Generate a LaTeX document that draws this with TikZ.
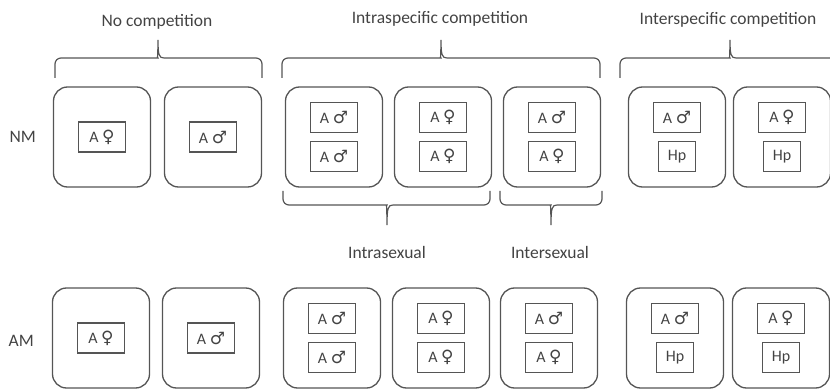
\documentclass[tikz,border=0pt]{standalone}
\usepackage{fontspec}
\setmainfont{Carlito}
\newfontfamily\symf{DejaVu Sans}
\definecolor{ln}{HTML}{555555}
\definecolor{tx}{HTML}{434343}
\newcommand{\ma}{{\symf\fontsize{17}{17}\selectfont\char"2642}}
\newcommand{\fe}{{\symf\fontsize{17}{17}\selectfont\char"2640}}
\begin{document}
\begin{tikzpicture}[x=1pt,y=-1pt,
  cell/.style={draw=ln,line width=1.3pt,rounded corners=14pt,minimum width=97pt,minimum height=100pt,inner sep=0pt},
  ind/.style={draw=ln,line width=1.4pt,minimum width=47pt,minimum height=30pt,inner sep=0pt,text=tx,font=\fontsize{16}{17}\selectfont},
  hp/.style={ind,minimum width=37pt},
  lab/.style={text=tx,font=\fontsize{17.5}{20}\selectfont,inner sep=0pt},
  br/.style={draw=ln,line width=1.2pt}]
\useasboundingbox (0,0) rectangle (830,390);
\clip (0,0) rectangle (830,390);
% row labels
\node[lab,anchor=east] (nm) at (36,137) {NM};
\node[lab,anchor=east] (am) at (34,341) {AM};
% top row
\node[cell] (t1) at (102,137) {};
\node[cell] (t2) at (213,137) {};
\node[cell] (t3) at (334,137) {};
\node[cell] (t4) at (443,137) {};
\node[cell] (t5) at (552,137) {};
\node[cell] (t6) at (677,137) {};
\node[cell] (t7) at (782,137) {};
% bottom row
\node[cell] (b1) at (101,338) {};
\node[cell] (b2) at (211,338) {};
\node[cell] (b3) at (332,338) {};
\node[cell] (b4) at (441,338) {};
\node[cell] (b5) at (549,338) {};
\node[cell] (b6) at (675,338) {};
\node[cell] (b7) at (781,338) {};
% inner boxes
\foreach \r/\y in {t/137,b/338}{
  \node[ind] (\r1a) at (\r1 |- 0,\y) {A \fe};
  \node[ind] (\r2a) at (\r2 |- 0,\y) {A \ma};
  \node[ind] (\r3a) at ([yshift=19.5pt]\r3.center) {A \ma};
  \node[ind] (\r3b) at ([yshift=-19.5pt]\r3.center) {A \ma};
  \node[ind] (\r4a) at ([yshift=19.5pt]\r4.center) {A \fe};
  \node[ind] (\r4b) at ([yshift=-19.5pt]\r4.center) {A \fe};
  \node[ind] (\r5a) at ([yshift=19.5pt]\r5.center) {A \ma};
  \node[ind] (\r5b) at ([yshift=-19.5pt]\r5.center) {A \fe};
  \node[ind] (\r6a) at ([yshift=19.5pt]\r6.center) {A \ma};
  \node[hp] (\r6b) at ([yshift=-19.5pt]\r6.center) {Hp};
  \node[ind] (\r7a) at ([yshift=19.5pt]\r7.center) {A \fe};
  \node[hp] (\r7b) at ([yshift=-19.5pt]\r7.center) {Hp};
}
% top braces
\foreach \a/\b/\m in {55/262/158,282/600/441,620/840/730}{
  \draw[br] (\a,78) [rounded corners=6pt]-- (\a,58) -- (\m-6,58) [sharp corners]
     .. controls (\m-1,58) and (\m,55) .. (\m,40)
     .. controls (\m,55) and (\m+1,58) .. (\m+6,58) [rounded corners=6pt]-- (\b,58) -- (\b,78);
}
% lower braces
\foreach \a/\b/\m in {283/490/387,500/602/551}{
  \draw[br] (\a,191) [rounded corners=6pt]-- (\a,205) -- (\m-6,205) [sharp corners]
     .. controls (\m-1,205) and (\m,208) .. (\m,225)
     .. controls (\m,208) and (\m+1,205) .. (\m+6,205) [rounded corners=6pt]-- (\b,205) -- (\b,191);
}
% labels
\node[lab] (l1) at (157,22) {No competition};
\node[lab] (l2) at (440,19) {Intraspecific competition};
\node[lab] (l3) at (728,20) {Interspecific competition};
\node[lab] (l4) at (387,252) {Intrasexual};
\node[lab] (l5) at (550,252) {Intersexual};
\end{tikzpicture}
\end{document}
